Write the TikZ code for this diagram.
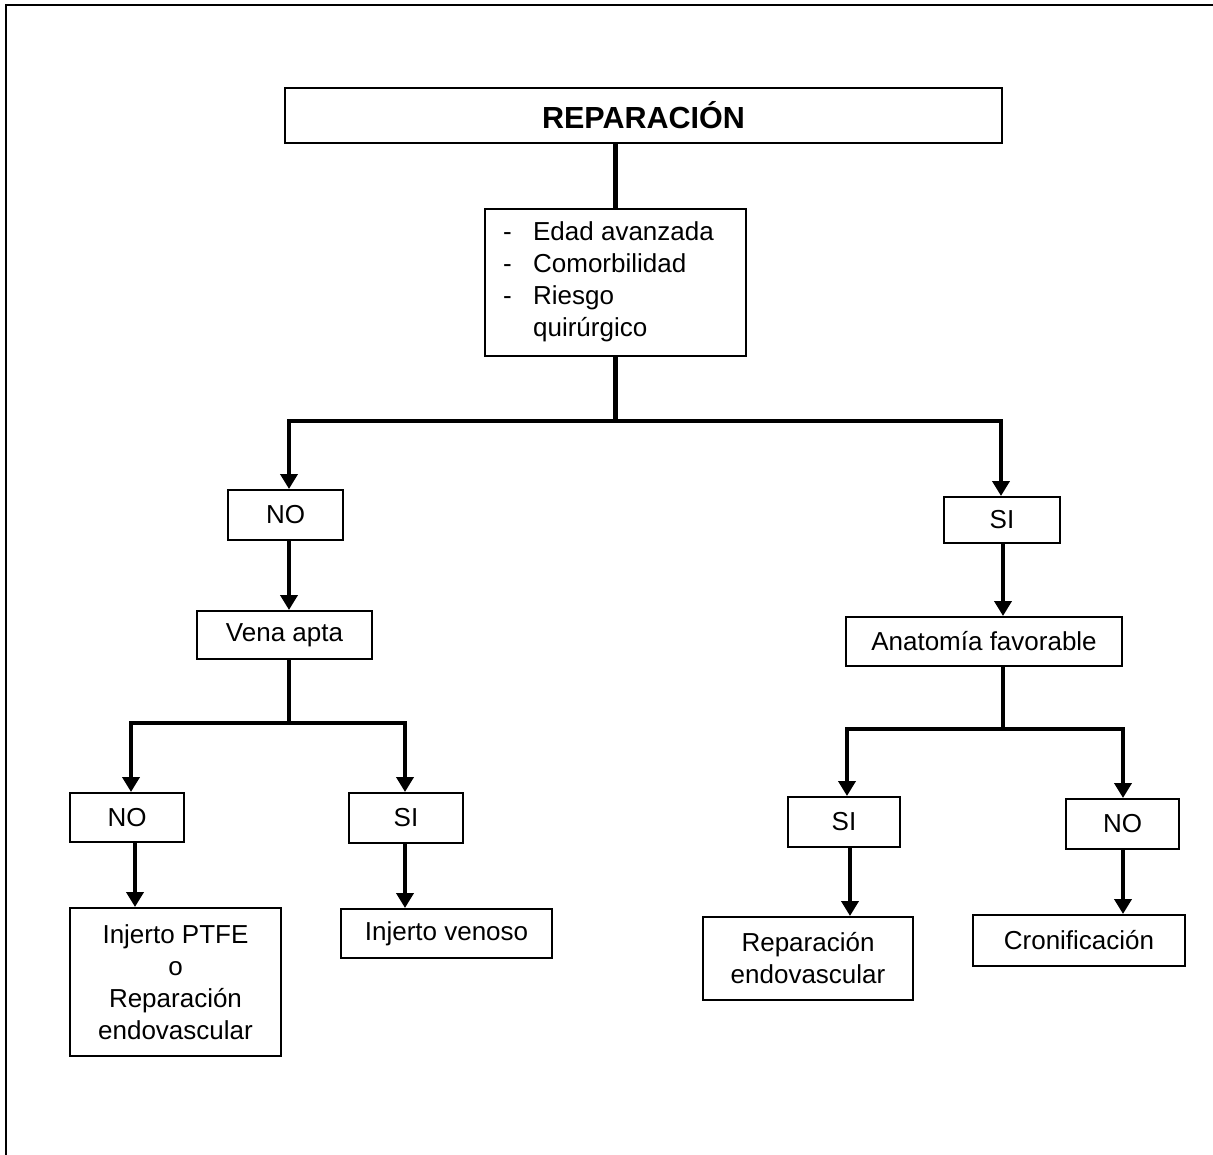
\documentclass[tikz,border=0pt]{standalone}
\usepackage{fontspec}
\setmainfont{Liberation Sans}
\usetikzlibrary{arrows.meta}

\begin{document}
\begin{tikzpicture}[x=1pt,y=-1pt,
  box/.style={draw, line width=2pt, inner sep=0pt, align=center,
              font=\fontsize{26}{32}\selectfont},
  title/.style={font=\fontsize{30.5}{36}\selectfont\bfseries},
  link/.style={line width=4.5pt},
  arr/.style={line width=4.5pt, -{Triangle[width=17pt,length=15pt]}}]

\useasboundingbox (0,0) rectangle (1213,1155);

% page frame (top and left edges)
\coordinate (fTL) at (6,5);
\draw[line width=2.5pt] (6,1155) -- (fTL) -- (1213,5);

% boxes
\node[box, title, minimum width=717, minimum height=55] (top) at (643.5,115.5) {REPARACIÓN};
\node[box, minimum width=261, minimum height=147] (lst) at (615.5,282.5)
  {\raisebox{-4pt}{\begin{tabular}{@{}p{30pt}@{}l@{}}
   - & Edad avanzada\\
   - & Comorbilidad\\
   - & Riesgo\\
     & quirúrgico
   \end{tabular}}\hspace{14pt}};
\node[box, minimum width=115, minimum height=50] (no1) at (285.5,515) {NO};
\node[box, minimum width=116, minimum height=46] (si1) at (1002,520) {SI};
\node[box, minimum width=175, minimum height=48] (vena) at (284.5,635) {Vena apta};
\node[box, minimum width=276, minimum height=49] (anat) at (984,641.5) {Anatomía favorable};
\node[box, minimum width=114, minimum height=49] (no2) at (127,817.5) {NO};
\node[box, minimum width=114, minimum height=50] (si2) at (406,818) {SI};
\node[box, minimum width=112, minimum height=50] (si3) at (844,822) {SI};
\node[box, minimum width=113, minimum height=50] (no3) at (1122.5,824) {NO};
\node[box, minimum width=211, minimum height=148] (ptfe) at (175.5,982)
  {Injerto PTFE\\o\\Reparación\\endovascular};
\node[box, minimum width=211, minimum height=49] (ven) at (446.5,933.5) {Injerto venoso};
\node[box, minimum width=210, minimum height=83] (rep) at (808,958.5) {Reparación\\endovascular};
\node[box, minimum width=212, minimum height=51] (cro) at (1079,940.5) {Cronificación};

% branch points
\coordinate (jL) at (289,421);
\coordinate (jR) at (1001,421);
\coordinate (kL) at (131,723);
\coordinate (kR) at (405,723);
\coordinate (pL) at (135,0);
\coordinate (mL) at (847,729);
\coordinate (mR) at (1123,729);
\coordinate (aR) at (1003,0);
\coordinate (rL) at (850,0);

% connectors
\draw[link] (top.south -| lst.north) -- (lst.north);
\draw[arr] (lst.south) -- (lst.south |- jL) -- (jL) -- (jL |- no1.north);
\draw[arr] (lst.south |- jR) -- (jR) -- (jR |- si1.north);

\draw[arr] (jL |- no1.south) -- (jL |- vena.north);
\draw[arr] (jL |- vena.south) -- (jL |- kL) -- (kL) -- (kL |- no2.north);
\draw[arr] (jL |- kR) -- (kR) -- (kR |- si2.north);
\draw[arr] (pL |- no2.south) -- (pL |- ptfe.north);
\draw[arr] (kR |- si2.south) -- (kR |- ven.north);

\draw[arr] (aR |- si1.south) -- (aR |- anat.north);
\draw[arr] (aR |- anat.south) -- (aR |- mL) -- (mL) -- (mL |- si3.north);
\draw[arr] (aR |- mR) -- (mR) -- (mR |- no3.north);
\draw[arr] (rL |- si3.south) -- (rL |- rep.north);
\draw[arr] (mR |- no3.south) -- (mR |- cro.north);
\end{tikzpicture}
\end{document}
